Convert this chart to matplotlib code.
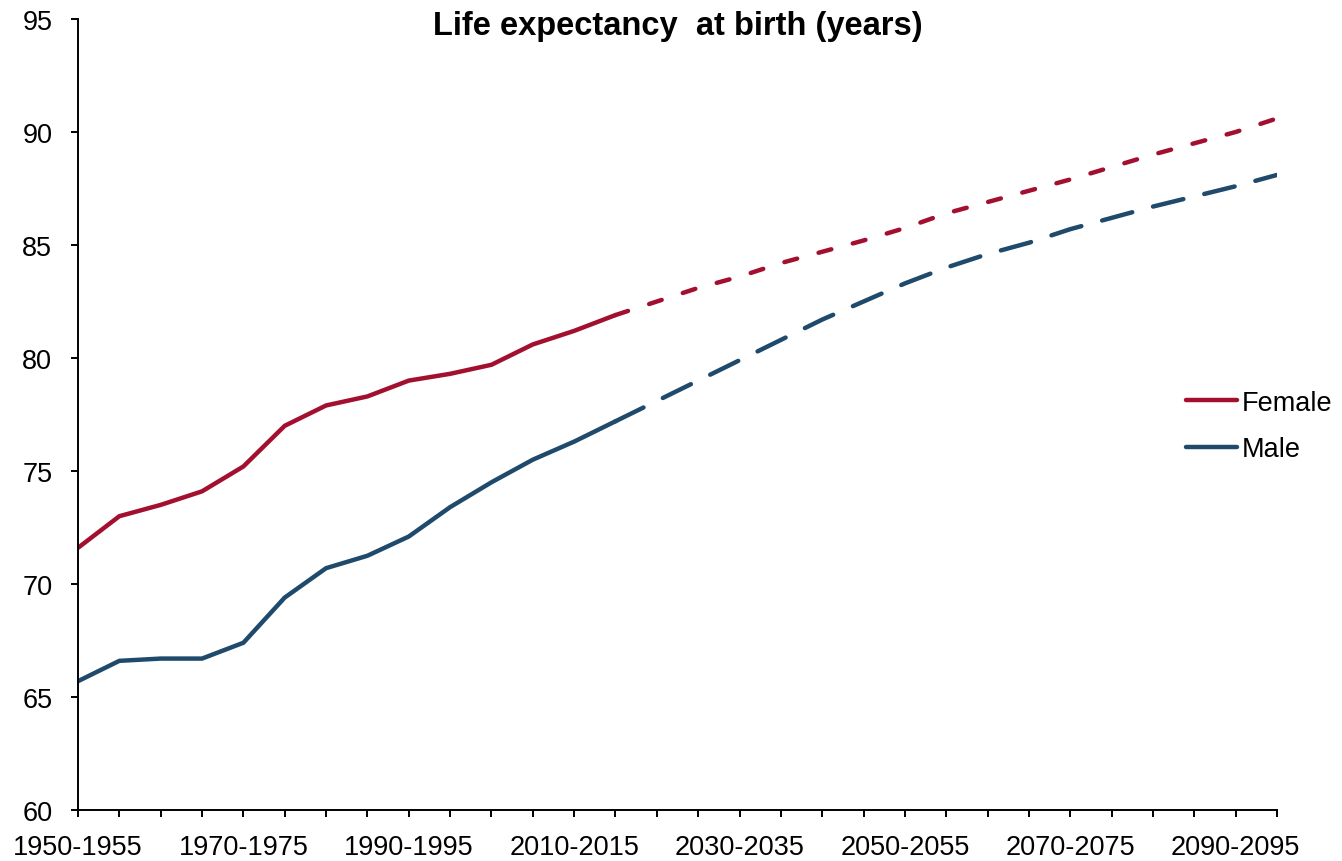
import matplotlib
matplotlib.use("Agg")
import matplotlib.pyplot as plt
from matplotlib.lines import Line2D

plt.rcParams['font.family'] = ['Liberation Sans', 'DejaVu Sans']
plt.rcParams['lines.scale_dashes'] = False

periods = [f"{y}-{y+5}" for y in range(1950, 2100, 5)]
female = [71.6, 73.0, 73.5, 74.1, 75.2, 77.0, 77.9, 78.3, 79.0, 79.3, 79.7, 80.6, 81.2, 81.9,
          82.5, 83.1, 83.6, 84.2, 84.7, 85.2, 85.75, 86.4, 86.9, 87.4, 87.9, 88.45, 89.0, 89.5, 90.0, 90.6]
male = [65.7, 66.6, 66.7, 66.7, 67.4, 69.4, 70.7, 71.25, 72.1, 73.4, 74.5, 75.5, 76.3, 77.2,
        78.1, 79.0, 79.9, 80.8, 81.7, 82.5, 83.3, 84.0, 84.6, 85.1, 85.7, 86.2, 86.7, 87.15, 87.6, 88.1]
n_hist = 14  # estimates through 2015-2020, projections afterwards
series_names = ["Female", "Male"]
colors = ["#A3102F", "#1F4A6C"]
title = "Life expectancy  at birth (years)"
yticks = [60, 65, 70, 75, 80, 85, 90, 95]

W, H = 1342, 862
fig = plt.figure(figsize=(W / 100, H / 100), dpi=100)
ax = fig.add_axes([78 / W, 1 - 811 / H, 1199 / W, 791 / H])

x = list(range(len(periods)))
lw = 3.2
fs = 19.5
dash_patterns = [(9.5, 16.0), (22.5, 15.5)]
handles = []
for vals, col, name, ds in zip([female, male], colors, series_names, dash_patterns):
    ax.plot(x[:n_hist], vals[:n_hist], color=col, lw=lw, solid_capstyle='round',
            solid_joinstyle='round')
    ax.plot(x[n_hist - 1:], vals[n_hist - 1:], color=col, lw=lw, dashes=ds,
            dash_capstyle='round', dash_joinstyle='round')
    handles.append(Line2D([], [], color=col, lw=lw, solid_capstyle='round', label=name))

ax.set_xlim(0, len(periods) - 1)
ax.set_ylim(60, 95)
ax.set_yticks(yticks)
ax.set_xticks(x)
ax.set_xticklabels([p if i % 4 == 0 else "" for i, p in enumerate(periods)])
for s in ['top', 'right']:
    ax.spines[s].set_visible(False)
for s in ['left', 'bottom']:
    ax.spines[s].set_linewidth(1.4)
    ax.spines[s].set_color('black')
ax.tick_params(axis='both', direction='out', length=5, width=1.4, labelsize=fs, colors='black')
ax.tick_params(axis='y', pad=13.5)
ax.tick_params(axis='x', pad=12)

fig.text((78 + 1277) / 2 / W, 1 - 27 / H, title, ha='center', va='center',
         fontsize=23.5, fontweight='bold')

leg = fig.legend(handles=handles, loc='center left', bbox_to_anchor=(1186 / W, 1 - 427 / H),
                 frameon=False, fontsize=fs, handlelength=1.9, handletextpad=0.15,
                 labelspacing=0.75, borderpad=0, borderaxespad=0)

fig.savefig("out.png", dpi=100)
